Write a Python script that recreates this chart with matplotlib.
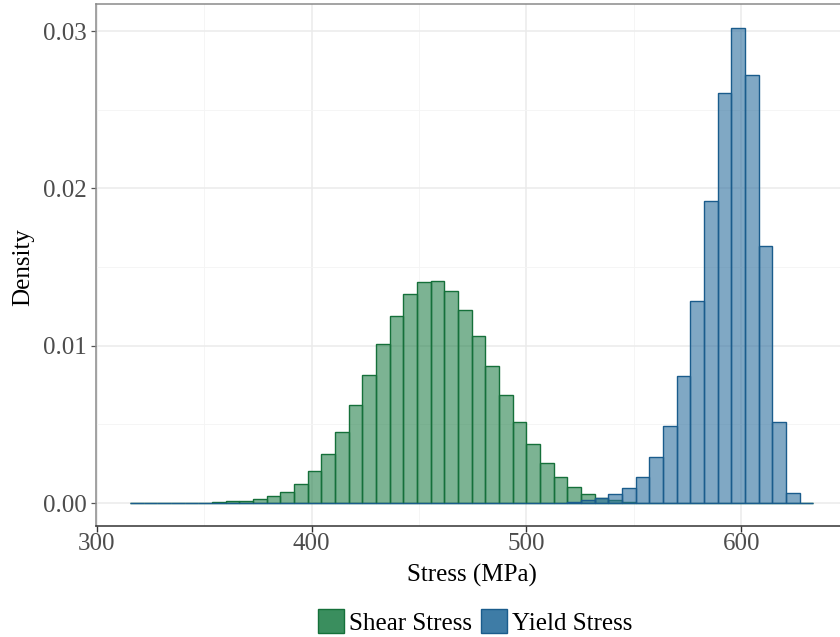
import numpy as np
import matplotlib
matplotlib.use("Agg")
from matplotlib import pyplot as plt
from matplotlib.patches import Patch

# 50 shared bins over the combined data range
bin_lo, bin_hi, n_bins = 315.5, 633.6, 50

# density per bin
shear = [0, 0, 0, 0, 0, 0, 0.00004, 0.0001, 0.00015, 0.00025,
         0.00043, 0.00072, 0.00123, 0.00201, 0.00309, 0.00451, 0.00625, 0.00814, 0.01011, 0.01189,
         0.01327, 0.01405, 0.01413, 0.01350, 0.01227, 0.01064, 0.00873, 0.00689, 0.00515, 0.00373,
         0.00252, 0.00164, 0.00099, 0.00060, 0.00032, 0.00017, 0.00006, 0.00002, 0, 0,
         0, 0, 0, 0, 0, 0, 0, 0, 0, 0]
yield_ = [0, 0, 0, 0, 0, 0, 0, 0, 0, 0,
          0, 0, 0, 0, 0, 0, 0, 0, 0, 0,
          0, 0, 0, 0, 0, 0, 0, 0, 0, 0,
          0, 0, 0.00005, 0.00017, 0.00032, 0.00055, 0.00094, 0.00166, 0.00292, 0.00491,
          0.00805, 0.01286, 0.01918, 0.02607, 0.03022, 0.02721, 0.01632, 0.00517, 0.00064, 0]

labels = ["Shear Stress", "Yield Stress"]
x_ticks = [300, 400, 500, 600]
y_ticks = [0.00, 0.01, 0.02, 0.03]

plt.rcParams['font.family'] = ['Liberation Serif', 'DejaVu Serif']

edges = np.linspace(bin_lo, bin_hi, n_bins + 1)
centers = (edges[:-1] + edges[1:]) / 2
width = edges[1] - edges[0]

fig = plt.figure(figsize=(8.4, 6.37), dpi=100)
ax_w = (848.7 - 96) / 840
ax = fig.add_axes([96 / 840, 1 - 526 / 637, ax_w, (526 - 4) / 637])

ax.bar(centers, shear, width=width, color='#1E7D45', alpha=0.58, edgecolor='none', zorder=2)
ax.bar(centers, shear, width=width, facecolor='none', edgecolor='#15703A', linewidth=1.0, zorder=2)
ax.bar(centers, yield_, width=width, color='#2C6E9E', alpha=0.6, edgecolor='none', zorder=3)
ax.bar(centers, yield_, width=width, facecolor='none', edgecolor='#1A5C8C', linewidth=1.0, zorder=3)

ax.set_xlim(299.6, 649.5)
ax.set_ylim(-0.00146, 0.03172)
ax.set_xticks(x_ticks)
ax.set_xticklabels([str(t) for t in x_ticks])
ax.set_yticks(y_ticks)
ax.set_yticklabels(["%.2f" % t for t in y_ticks])
ax.set_xticks([350, 450, 550, 650], minor=True)
ax.set_yticks([0.005, 0.015, 0.025], minor=True)

ax.grid(which='major', color='#EBEBEB', linewidth=1.1, zorder=0)
ax.grid(which='minor', color='#F4F4F4', linewidth=0.6, zorder=0)
ax.set_axisbelow(True)

ax.tick_params(which='minor', length=0)
ax.tick_params(axis='y', which='major', length=3.5, width=0.9, color='#555555',
               labelsize=18, labelcolor='#4D4D4D', pad=3)
ax.tick_params(axis='x', which='major', length=4, width=1.0, color='#333333',
               labelsize=18, labelcolor='#4D4D4D', pad=1)

for side in ['left', 'top']:
    ax.spines[side].set_color('#8A8A8A')
    ax.spines[side].set_linewidth(1.1)
ax.spines['right'].set_visible(False)
ax.spines['bottom'].set_color('#333333')
ax.spines['bottom'].set_linewidth(1.1)

ax.set_xlabel("Stress (MPa)", fontsize=18, color='black')
ax.set_ylabel("Density", fontsize=18, color='black')
ax.xaxis.set_label_coords((472 - 96) / 840 / ax_w, -0.072)
ax.yaxis.set_label_coords(-(96 - 34) / 840 / ax_w, 1 - (267 - 4) / 522)

handles = [Patch(facecolor='#3A8E5E', edgecolor='#15703A', linewidth=1.0),
           Patch(facecolor='#3E7CA6', edgecolor='#1A5C8C', linewidth=1.0)]
fig.legend(handles, labels, loc='center', bbox_to_anchor=(475 / 840, 1 - 622 / 637),
           ncol=2, frameon=False, fontsize=18, handlelength=1.05, handleheight=1.05,
           handletextpad=0.2, columnspacing=0.35, borderaxespad=0)

fig.savefig("out.png", dpi=100)
